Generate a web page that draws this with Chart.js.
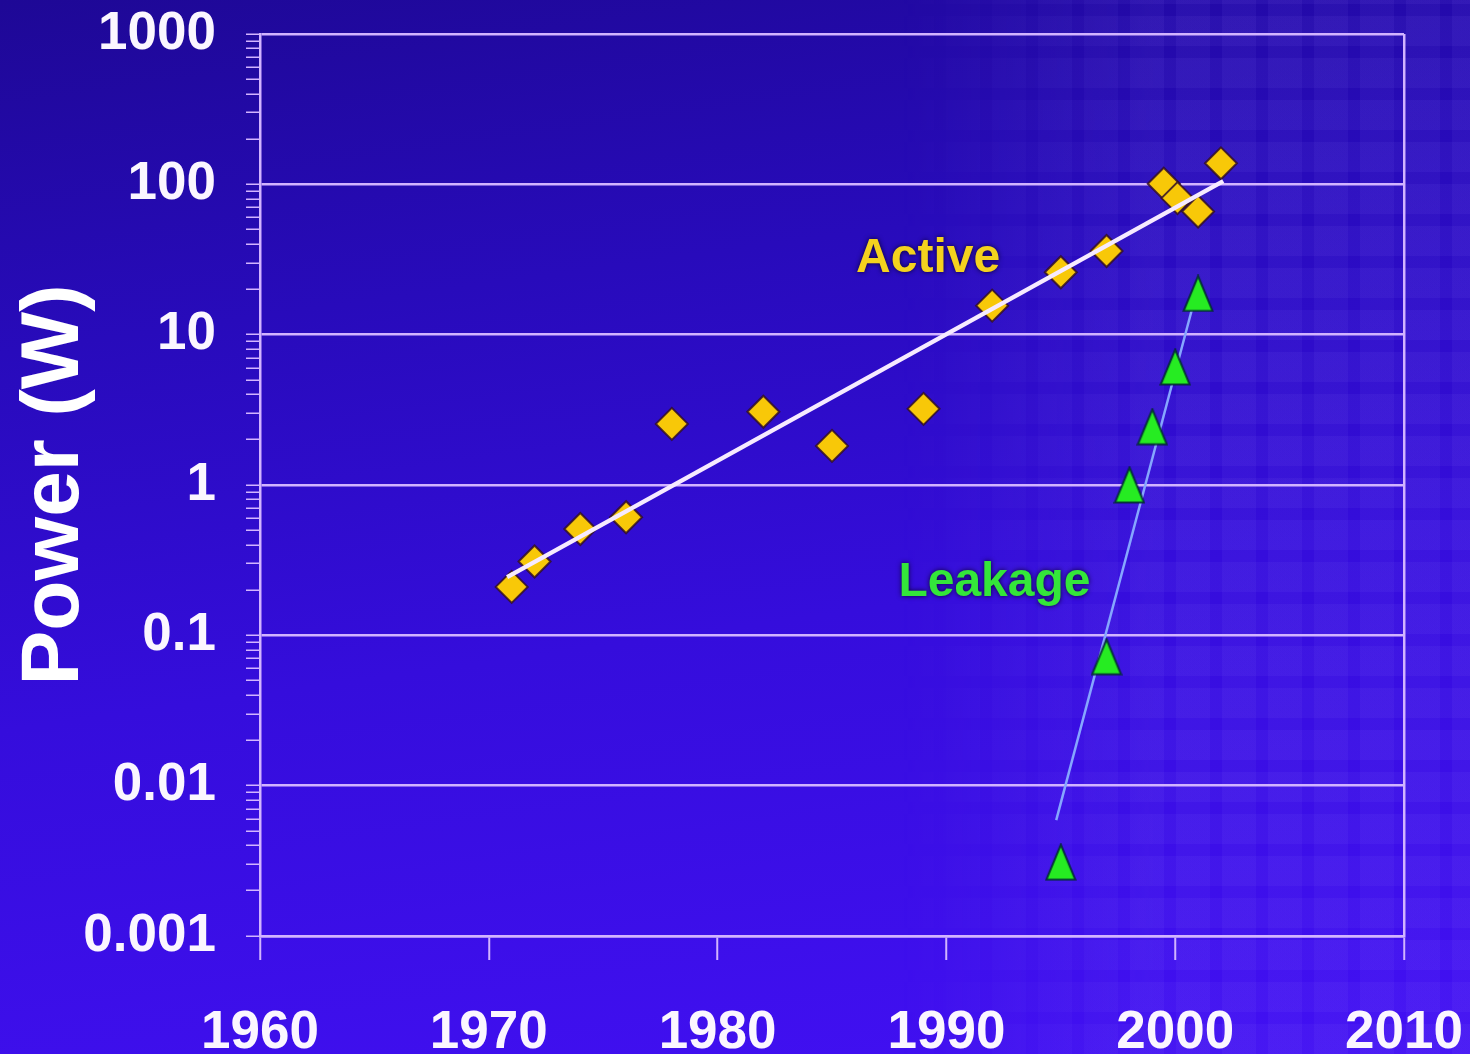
<!DOCTYPE html>
<html>
<head>
<meta charset="utf-8">
<title>Power (W)</title>
<script src="https://cdn.jsdelivr.net/npm/chart.js@4/dist/chart.umd.min.js"></script>
<style>
  html, body { margin: 0; padding: 0; width: 1470px; height: 1054px; overflow: hidden; }
  body {
    position: relative;
    background: linear-gradient(172deg, #1e0896 0%, #280bbb 28%, #350ddc 58%, #4210f4 100%);
  }
  /* faint tiled backdrop on the right-hand side of the slide */
  #tiles {
    position: absolute; left: 900px; top: 0; width: 570px; height: 1054px;
    background-image:
      repeating-linear-gradient(90deg, rgba(150,130,255,0.07) 0 34px, transparent 34px 46px),
      repeating-linear-gradient(0deg, rgba(150,130,255,0.07) 0 30px, transparent 30px 42px);
    -webkit-mask-image: linear-gradient(90deg, transparent 0%, #000 45%);
    mask-image: linear-gradient(90deg, transparent 0%, #000 45%);
  }
  #plot { position: absolute; left: 0; top: 0; }
</style>
</head>
<body>
<div id="tiles"></div>
<canvas id="plot" width="1470" height="1054"></canvas>
<script>
// ---- values ----
const xTickYears = [1960, 1970, 1980, 1990, 2000, 2010];
const yDecades = [0.001, 0.01, 0.1, 1, 10, 100, 1000];
const yDecadeLabels = ['0.001', '0.01', '0.1', '1', '10', '100', '1000'];

const activeYears = [1971, 1972, 1974, 1976, 1978, 1982, 1985, 1989, 1992, 1995, 1997, 1999.5, 2000.1, 2001, 2002];
const activePower = [0.21, 0.31, 0.51, 0.61, 2.55, 3.07, 1.82, 3.21, 15.6, 26, 36, 101, 81, 66, 138];

const activeFitYears = [1970.8, 2002.1];
const activeFitPower = [0.244, 105];

const leakageYears = [1995, 1997, 1998, 1999, 2000, 2001];
const leakagePower = [0.0031, 0.072, 1.0, 2.44, 6.1, 18.8];

const leakageFitYears = [1994.8, 2001.0];
const leakageFitPower = [0.0059, 21];

const seriesNames = ['Active', 'Leakage'];

// ---- helpers ----
const pairs = (xs, ys) => xs.map((x, i) => ({ x: x, y: ys[i] }));
const isDecade = v => Math.abs(Math.log10(v) - Math.round(Math.log10(v))) < 1e-9;

// minor tick positions 1..9 within each decade
const yTickValues = [];
yDecades.forEach((d, i) => {
  if (i === yDecades.length - 1) { yTickValues.push(d); return; }
  for (let m = 1; m <= 9; m++) yTickValues.push(+(d * m).toPrecision(6));
});

const LAV = '#d2b4ff';
const TEXT_FONT = "'Liberation Sans', Arial, sans-serif";

function triangleSprite(w, h, fill, edge) {
  const c = document.createElement('canvas');
  c.width = w; c.height = h;
  const g = c.getContext('2d');
  g.beginPath();
  g.moveTo(w / 2, 1.5);
  g.lineTo(w - 1.5, h - 1.5);
  g.lineTo(1.5, h - 1.5);
  g.closePath();
  g.fillStyle = fill; g.fill();
  g.lineWidth = 2; g.strokeStyle = edge; g.stroke();
  return c;
}

// in-plot series names
const seriesTags = {
  id: 'seriesTags',
  afterDatasetsDraw(chart, args, opts) {
    const { ctx, scales: { x, y } } = chart;
    opts.tags.forEach(t => {
      ctx.save();
      ctx.font = 'bold 48px ' + TEXT_FONT;
      ctx.textAlign = 'center';
      ctx.textBaseline = 'middle';
      ctx.shadowColor = 'rgba(10,0,40,0.95)';
      ctx.shadowBlur = 5;
      ctx.fillStyle = t.color;
      ctx.fillText(t.text, x.getPixelForValue(t.year), y.getPixelForValue(t.power));
      ctx.restore();
    });
  }
};

new Chart(document.getElementById('plot'), {
  type: 'scatter',
  data: {
    datasets: [
      {
        label: seriesNames[0] + ' fit',
        data: pairs(activeFitYears, activeFitPower),
        showLine: true, pointRadius: 0,
        borderColor: '#f6eaff', borderWidth: 4.5,
        order: 0
      },
      {
        label: seriesNames[0],
        data: pairs(activeYears, activePower),
        pointStyle: 'rectRot', pointRadius: 16,
        backgroundColor: '#f8c808',
        borderColor: 'rgba(50,15,40,0.85)', borderWidth: 2,
        order: 1
      },
      {
        label: seriesNames[1],
        data: pairs(leakageYears, leakagePower),
        pointStyle: triangleSprite(32, 38, '#26ec22', 'rgba(0,40,50,0.85)'),
        order: 1
      },
      {
        label: seriesNames[1] + ' fit',
        data: pairs(leakageFitYears, leakageFitPower),
        showLine: true, pointRadius: 0,
        borderColor: '#86a6ff', borderWidth: 2.5,
        order: 2
      }
    ]
  },
  options: {
    responsive: false,
    devicePixelRatio: 1,
    animation: false,
    layout: { padding: { top: 34, right: 66, left: 0, bottom: 0 } },
    plugins: {
      legend: { display: false },
      tooltip: { enabled: false },
      seriesTags: {
        tags: [
          { text: seriesNames[0], year: 1989.2, power: 32, color: '#f4d21e' },
          { text: seriesNames[1], year: 1992.1, power: 0.225, color: '#34e63a' }
        ]
      }
    },
    scales: {
      x: {
        type: 'linear', min: 1960, max: 2010,
        afterBuildTicks: s => { s.ticks = xTickYears.map(v => ({ value: v })); },
        afterFit: s => { s.height = 118; s.paddingLeft = 0; s.paddingRight = 0; },
        grid: {
          drawOnChartArea: true,
          color: c => (c.tick && c.tick.value === 2010) ? LAV : 'transparent',
          lineWidth: 2.5,
          tickLength: 24,
          tickColor: LAV,
          tickWidth: 2
        },
        border: { color: LAV, width: 2.5 },
        ticks: {
          color: '#fbf6ff',
          font: { family: TEXT_FONT, size: 53, weight: 'bold' },
          padding: 42,
          maxRotation: 0,
          autoSkip: false,
          callback: v => String(v)
        }
      },
      y: {
        type: 'logarithmic', min: 0.001, max: 1000,
        afterBuildTicks: s => { s.ticks = yTickValues.map(v => ({ value: v, major: isDecade(v) })); },
        afterFit: s => { s.width = 260; s.paddingTop = 0; s.paddingBottom = 0; },
        grid: {
          color: c => (c.tick && isDecade(c.tick.value)) ? LAV : 'transparent',
          lineWidth: 2.5,
          tickLength: 14,
          tickColor: LAV,
          tickWidth: 1.5
        },
        border: { color: LAV, width: 2.5 },
        ticks: {
          autoSkip: false,
          color: '#fbf6ff',
          font: { family: TEXT_FONT, size: 53, weight: 'bold' },
          padding: 30,
          callback: v => {
            if (!isDecade(v)) return '';
            const i = yDecades.findIndex(d => Math.abs(Math.log10(d) - Math.log10(v)) < 1e-9);
            return yDecadeLabels[i];
          }
        },
        title: {
          display: true,
          text: 'Power (W)',
          color: '#ffffff',
          font: { family: TEXT_FONT, size: 82, weight: 'bold', lineHeight: 1.2 },
          padding: { top: 6, bottom: 0 }
        }
      }
    }
  },
  plugins: [seriesTags]
});
</script>
</body>
</html>
